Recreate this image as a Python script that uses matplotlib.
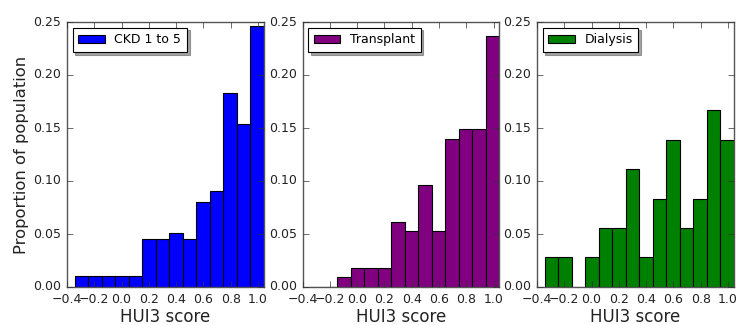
import numpy as np
import matplotlib
matplotlib.use("Agg")
import matplotlib.pyplot as plt

plt.style.use("classic")

bin_edges = list(np.linspace(-0.345, 1.04, 15))
groups = ["CKD 1 to 5", "Transplant", "Dialysis"]
colors = ["blue", "purple", "green"]
ckd = [0.010, 0.010, 0.010, 0.010, 0.010, 0.045, 0.045, 0.051, 0.045, 0.080, 0.091, 0.183, 0.154, 0.246]
transplant = [0.0, 0.0, 0.009, 0.018, 0.018, 0.018, 0.061, 0.053, 0.096, 0.053, 0.140, 0.149, 0.149, 0.237]
dialysis = [0.028, 0.028, 0.0, 0.028, 0.056, 0.056, 0.111, 0.028, 0.083, 0.139, 0.056, 0.083, 0.167, 0.139]
series = [ckd, transplant, dialysis]
xticks = [-0.4, -0.2, 0.0, 0.2, 0.4, 0.6, 0.8, 1.0]
yticks = [0.00, 0.05, 0.10, 0.15, 0.20, 0.25]

fig = plt.figure(figsize=(7.36, 3.25), dpi=100, facecolor="white")
lefts = [67, 302.5, 537]
W, H = 736, 325
for i, (name, col, vals) in enumerate(zip(groups, colors, series)):
    ax = fig.add_axes([lefts[i] / W, 1 - 287 / H, 196.5 / W, (287 - 22) / H])
    edges = np.array(bin_edges)
    mids = (edges[:-1] + edges[1:]) / 2
    ax.hist(mids, bins=edges, weights=vals, color=col, edgecolor="black",
            linewidth=0.8, label=name)
    ax.set_xlim(-0.4, 1.04)
    ax.set_ylim(0, 0.25)
    ax.set_xticks(xticks)
    ax.set_xticklabels([f"{t:.1f}".replace("-", "\u2212") for t in xticks])
    ax.set_yticks(yticks)
    ax.set_yticklabels([f"{t:.2f}" for t in yticks])
    ax.tick_params(labelsize=9, direction="in", top=True, right=True, length=4,
                   colors="#333333", labelcolor="#222222")
    for s in ax.spines.values():
        s.set_color("#555555")
    ax.set_xlabel("HUI3 score", fontsize=12, color="#222222", labelpad=2)
    if i == 0:
        ax.set_ylabel("Proportion of population", fontsize=11.8, color="#222222", labelpad=3)
    leg = ax.legend(loc="upper left", fontsize=9, shadow=True, fancybox=False,
                    handlelength=2.1, handletextpad=0.8, borderpad=0.45,
                    borderaxespad=0.45)
    leg.get_frame().set_linewidth(0.8)

fig.savefig("out.png", dpi=100, facecolor="white")
